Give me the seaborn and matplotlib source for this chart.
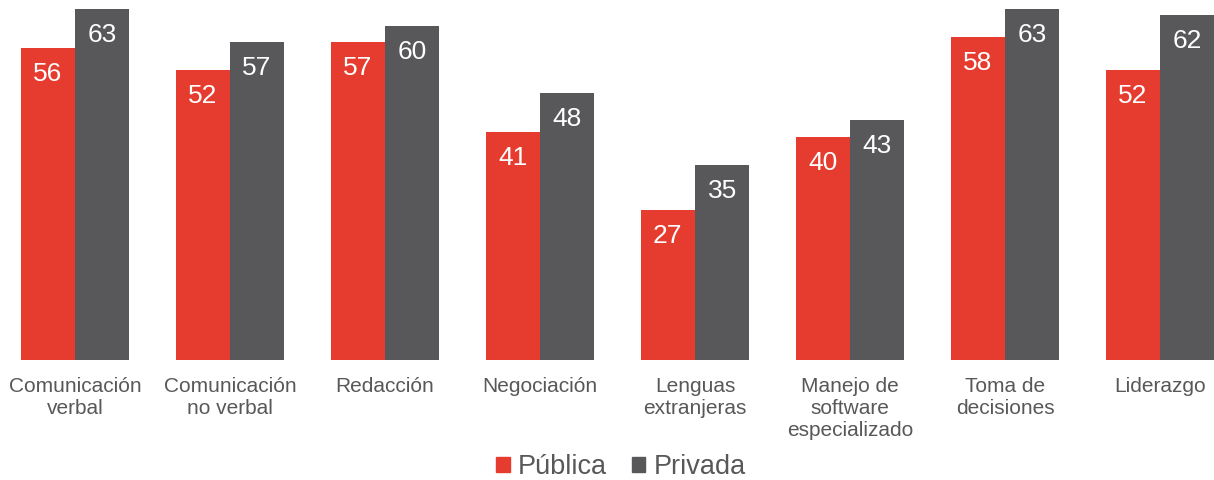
import numpy as np
import pandas as pd
import matplotlib
matplotlib.use("Agg")
import matplotlib.pyplot as plt
import seaborn as sns

# data
categorias = ["Comunicación\nverbal", "Comunicación\nno verbal", "Redacción", "Negociación",
              "Lenguas\nextranjeras", "Manejo de\nsoftware\nespecializado", "Toma de\ndecisiones",
              "Liderazgo"]
publica = [56, 52, 57, 41, 27, 40, 58, 52]
privada = [63, 57, 60, 48, 35, 43, 63, 62]
series = ["Pública", "Privada"]
colores = ["#E63C30", "#58585A"]

df = pd.DataFrame({
    "categoria": categorias * 2,
    "valor": publica + privada,
    "sector": [series[0]] * len(categorias) + [series[1]] * len(categorias),
})

sns.set_style("white")
plt.rcParams['font.family'] = ['Liberation Sans', 'DejaVu Sans']

fig = plt.figure(figsize=(12.14, 4.8), dpi=100)
ax = fig.add_axes([0, 1 - 360 / 480, 1, 351 / 480])

sns.barplot(data=df, x="categoria", y="valor", hue="sector", palette=colores,
            width=0.7, saturation=1, ax=ax, legend=False, errorbar=None, linewidth=0)

ax.set_xlim(-75 / 155, (1214 - 75) / 155)
ax.set_ylim(0, 63)
for s in ax.spines.values():
    s.set_visible(False)
ax.set_yticks([])
ax.set_xlabel("")
ax.set_ylabel("")
ax.tick_params(axis="x", length=0, pad=12, labelsize=15, labelcolor="#58585A")
for t in ax.get_xticklabels():
    t.set_linespacing(1.2)
    t.set_verticalalignment("top")

for cont in ax.containers:
    for bar in cont:
        h = bar.get_height()
        ax.annotate(f"{h:.0f}", (bar.get_x() + bar.get_width() / 2, h),
                    xytext=(0, -26), textcoords="offset pixels",
                    ha="center", va="center", color="white", fontsize=19)

handles = [plt.Rectangle((0, 0), 1, 1, color=c) for c in colores]
fig.legend(handles, series, loc="center", bbox_to_anchor=(621 / 1214, 1 - 467 / 480),
           ncol=2, frameon=False, fontsize=19.5, labelcolor="#58585A",
           handlelength=0.5, handleheight=0.5, handletextpad=0.3, columnspacing=0.9)

fig.savefig("out.png", dpi=100)
